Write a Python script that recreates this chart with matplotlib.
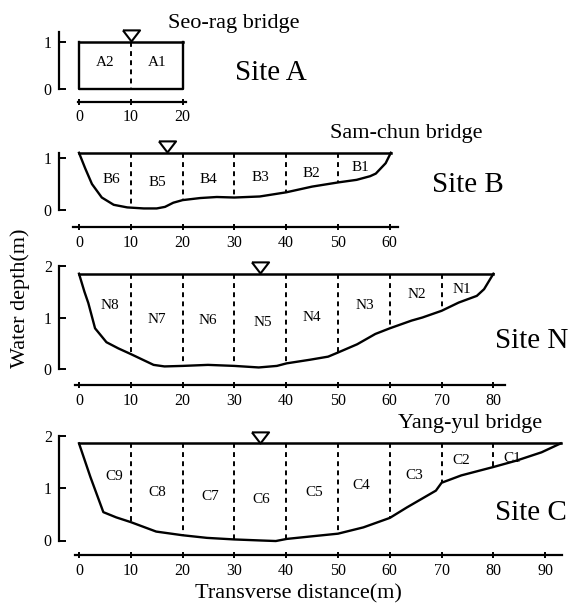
import numpy as np
import matplotlib
matplotlib.use('Agg')
import matplotlib.pyplot as plt
from matplotlib.transforms import offset_copy

plt.rcParams['font.family'] = ['Liberation Serif', 'DejaVu Serif']

# --- datos (profundidad del lecho en m) ---
A_x = [0, 0, 20, 20]
A_bed = [1.0, 0.0, 0.0, 1.0]
A_surface = 1.0
A_cuts = [10]
A_names = ['A2', 'A1']
A_lab_x = [5, 15]
A_lab_y = [0.55, 0.55]

B_x = [0, 1.2, 2.5, 4.4, 6.7, 9.3, 12.5, 15, 16.6, 18.2, 20, 23.4, 26.6, 30,
       34.9, 40, 45, 50, 53.6, 56.2, 57.3, 59.2, 60.2]
B_bed = [1.10, 0.80, 0.50, 0.24, 0.10, 0.05, 0.03, 0.03, 0.06, 0.14, 0.19, 0.23,
         0.25, 0.24, 0.26, 0.34, 0.45, 0.53, 0.58, 0.65, 0.70, 0.90, 1.10]
B_surface = 1.10
B_cuts = [10, 20, 30, 40, 50]
B_names = ['B6', 'B5', 'B4', 'B3', 'B2', 'B1']
B_lab_x = [6.2, 15.2, 25, 35, 44.8, 54.4]
B_lab_y = [0.59, 0.53, 0.59, 0.62, 0.71, 0.82]

N_x = [0, 1.05, 1.8, 3.1, 5.3, 7.6, 10, 12.3, 14.4, 16.5, 20, 24.9, 30, 34.7,
       38.2, 40.1, 44.6, 48.1, 50, 53.7, 57.2, 60, 64.2, 66.3, 70, 73.3, 76.8,
       78.2, 80]
N_bed = [1.85, 1.50, 1.28, 0.79, 0.52, 0.40, 0.29, 0.18, 0.08, 0.05, 0.06, 0.08,
         0.06, 0.03, 0.06, 0.11, 0.18, 0.24, 0.32, 0.48, 0.68, 0.79, 0.94, 1.00,
         1.13, 1.29, 1.42, 1.55, 1.85]
N_surface = 1.85
N_cuts = [10, 20, 30, 40, 50, 60, 70]
N_names = ['N8', 'N7', 'N6', 'N5', 'N4', 'N3', 'N2', 'N1']
N_lab_x = [6, 15.1, 24.9, 35.4, 44.9, 55.1, 65.3, 74]
N_lab_y = [1.23, 0.97, 0.94, 0.90, 1.00, 1.23, 1.45, 1.55]

C_x = [0, 2.2, 4.7, 7.2, 10, 14.9, 20, 24.7, 30, 35.2, 38, 40.1, 45, 50, 54.9,
       60, 63.3, 66.8, 68.9, 70, 73.8, 80, 84.4, 89.3, 93]
C_bed = [1.85, 1.21, 0.54, 0.44, 0.35, 0.17, 0.10, 0.05, 0.02, 0.0, -0.01, 0.03,
         0.08, 0.13, 0.25, 0.43, 0.63, 0.83, 0.95, 1.10, 1.24, 1.40, 1.52, 1.68,
         1.85]
C_surface = 1.85
C_cuts = [10, 20, 30, 40, 50, 60, 70, 80]
C_names = ['C9', 'C8', 'C7', 'C6', 'C5', 'C4', 'C3', 'C2', 'C1']
C_lab_x = [6.8, 15.2, 25.4, 35.2, 45.4, 54.5, 64.7, 73.8, 83.7]
C_lab_y = [1.21, 0.92, 0.83, 0.79, 0.92, 1.05, 1.24, 1.52, 1.56]

# posicion del marcador del nivel de agua
A_mark, B_mark, N_mark, C_mark = 10, 17, 35, 35

W, H = 573, 611
PX0, SX = 79, 5.18   # pixel de x=0 y pixeles por metro

fig = plt.figure(figsize=(W / 100, H / 100), dpi=100)
fig.patch.set_facecolor('white')

tri = [(-1, 1.3), (1, 1.3), (0, 0), (-1, 1.3)]


def make_axes(xlim, ylim, y0, sy):
    left = (PX0 + xlim[0] * SX) / W
    width = (xlim[1] - xlim[0]) * SX / W
    bottom = 1 - (y0 - ylim[0] * sy) / H
    height = (ylim[1] - ylim[0]) * sy / H
    ax = fig.add_axes([left, bottom, width, height])
    ax.set_xlim(*xlim)
    ax.set_ylim(*ylim)
    return ax


def draw_site(ax, x, bed, surface, cuts, names, lab_x, lab_y, mark,
              xticks, yticks, xline, ybase, ytop, box=False):
    ax.set_facecolor('none')
    ax.plot(x, bed, color='black', lw=1.7, solid_joinstyle='round',
            clip_on=False)
    ax.plot([x[0], x[-1]], [surface, surface], color='black', lw=1.8,
            clip_on=False)
    for c in cuts:
        b = 0.0 if box else np.interp(c, x, bed)
        ax.plot([c, c], [surface, b], color='black', lw=1.4,
                linestyle=(0, (2.5, 2.2)))
    for n, lx, ly in zip(names, lab_x, lab_y):
        ax.text(lx, ly, n, ha='center', va='center', fontsize=11)
    trans = offset_copy(ax.transData, fig=fig, y=0.6, units='points')
    ax.plot([mark], [surface], marker=tri, ms=16, mfc='white', mec='black',
            mew=1.5, linestyle='none', transform=trans, clip_on=False)

    for s in ['top', 'right']:
        ax.spines[s].set_visible(False)
    ax.spines['left'].set_position(('data', -3.9))
    ax.spines['left'].set_bounds(0, ytop)
    ax.spines['left'].set_linewidth(1.6)
    ax.spines['bottom'].set_position(('data', ybase))
    ax.spines['bottom'].set_bounds(xline[0], xline[1])
    ax.spines['bottom'].set_linewidth(1.6)
    ax.set_xticks(xticks)
    ax.set_yticks(yticks)
    ax.tick_params(axis='y', direction='in', length=5, width=1.4, pad=5,
                   labelsize=11.5)
    ax.tick_params(axis='x', direction='inout', length=5, width=1.4, pad=3,
                   labelsize=11.5)


# Site A
axA = make_axes((-6, 24), (-0.35, 1.3), 89, 47.5)
draw_site(axA, A_x, A_bed, A_surface, A_cuts, A_names, A_lab_x, A_lab_y, A_mark,
          [0, 10, 20], [0, 1], (-0.2, 20.6), -0.27, 1.2, box=True)

# Site B
axB = make_axes((-6, 64), (-0.4, 1.3), 210, 52)
draw_site(axB, B_x, B_bed, B_surface, B_cuts, B_names, B_lab_x, B_lab_y, B_mark,
          list(range(0, 61, 10)), [0, 1], (-1.1, 61.6), -0.33, 1.1)

# Site N
axN = make_axes((-6, 84), (-0.4, 2.1), 369, 51.5)
draw_site(axN, N_x, N_bed, N_surface, N_cuts, N_names, N_lab_x, N_lab_y, N_mark,
          list(range(0, 81, 10)), [0, 1, 2], (-0.8, 82.2), -0.32, 2.0)

# Site C
axC = make_axes((-6, 95), (-0.4, 2.1), 540.5, 52.5)
draw_site(axC, C_x, C_bed, C_surface, C_cuts, C_names, C_lab_x, C_lab_y, C_mark,
          list(range(0, 91, 10)), [0, 1, 2], (-0.8, 93.2), -0.28, 2.0)


def ftext(px, py, s, **kw):
    fig.text(px / W, 1 - py / H, s, **kw)


ftext(168, 28, 'Seo-rag bridge', fontsize=16, ha='left', va='baseline')
ftext(235, 80, 'Site A', fontsize=21, ha='left', va='baseline')
ftext(330, 138, 'Sam-chun bridge', fontsize=16, ha='left', va='baseline')
ftext(432, 192, 'Site B', fontsize=21, ha='left', va='baseline')
ftext(495, 348, 'Site N', fontsize=21, ha='left', va='baseline')
ftext(398, 428, 'Yang-yul bridge', fontsize=16, ha='left', va='baseline')
ftext(495, 520, 'Site C', fontsize=21, ha='left', va='baseline')
ftext(20, 298, 'Water depth(m)', fontsize=16, rotation=90,
      ha='center', va='center')
ftext(298, 598, 'Transverse distance(m)', fontsize=16, ha='center',
      va='baseline')

plt.savefig('out.png', dpi=100, facecolor='white')
